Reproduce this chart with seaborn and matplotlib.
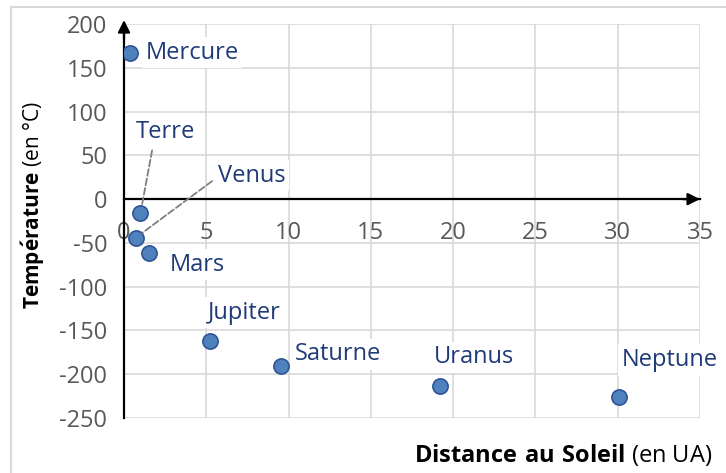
import pandas as pd
import matplotlib.pyplot as plt
import seaborn as sns
from matplotlib.patches import Rectangle

# %% data
planets = ['Mercure', 'Venus', 'Terre', 'Mars', 'Jupiter', 'Saturne', 'Uranus', 'Neptune']
distance = [0.39, 0.72, 1.0, 1.52, 5.2, 9.54, 19.2, 30.1]
temperature = [167, -44, -16, -61, -162, -191, -214, -226]

df = pd.DataFrame({'planete': planets, 'distance': distance, 'temperature': temperature})

# label offsets from each point, in pixels (placement only)
offsets = {'Mercure': (15, 0), 'Venus': (82, 62), 'Terre': (-5, 81), 'Mars': (21, -12),
           'Jupiter': (-2, 28), 'Saturne': (14, 12), 'Uranus': (-6, 29), 'Neptune': (2, 37)}

# %% plot
sns.set_style('white')
plt.rcParams['font.family'] = ['Open Sans', 'DejaVu Sans']
plt.rcParams['mathtext.fontset'] = 'custom'
plt.rcParams['mathtext.bf'] = 'Open Sans:bold'
plt.rcParams['mathtext.rm'] = 'Open Sans'
plt.rcParams['axes.unicode_minus'] = False

fig = plt.figure(figsize=(7.26, 4.73), dpi=100)
ax = fig.add_axes([124 / 726, 1 - 418 / 473, 576 / 726, 394 / 473])

grid_col = '#D9D9D9'
lab_col = '#1F3A78'
tick_col = '#595959'

sns.scatterplot(data=df, x='distance', y='temperature', ax=ax, s=120,
                color='#4F81BD', edgecolor='#2F5597', linewidth=1.2, zorder=5)

ax.set_xlim(0, 35)
ax.set_ylim(-250, 200)
ax.set_xticks(range(0, 36, 5))
ax.set_yticks(range(-250, 201, 50))
ax.grid(True, color=grid_col, lw=1.2)
ax.set_axisbelow(True)

ax.spines['left'].set_position(('data', 0))
ax.spines['bottom'].set_position(('data', 0))
for s in ['top', 'right']:
    ax.spines[s].set_visible(False)
for s in ['left', 'bottom']:
    ax.spines[s].set_linewidth(1.6)
    ax.spines[s].set_color('black')
    ax.spines[s].set_zorder(3)

ax.tick_params(axis='both', direction='out', length=7, width=1.4, color='black',
               labelsize=17, labelcolor=tick_col)
ax.tick_params(axis='x', pad=9)
ax.tick_params(axis='y', pad=5)
ax.set_xlabel('')
ax.set_ylabel('')

# axis arrows
ax.annotate('', xy=(1.0, 0), xycoords=ax.get_yaxis_transform(),
            xytext=(0.97, 0), textcoords=ax.get_yaxis_transform(),
            arrowprops=dict(arrowstyle='-|>', color='black', lw=1.6, mutation_scale=18,
                            shrinkA=0, shrinkB=0), annotation_clip=False)
ax.annotate('', xy=(0, 1.01), xycoords=ax.get_xaxis_transform(),
            xytext=(0, 0.96), textcoords=ax.get_xaxis_transform(),
            arrowprops=dict(arrowstyle='-|>', color='black', lw=1.6, mutation_scale=18,
                            shrinkA=0, shrinkB=0), annotation_clip=False)

# point labels
for name, x, y in zip(planets, distance, temperature):
    dx, dy = offsets[name]
    props = None
    if name == 'Terre':
        props = dict(arrowstyle='-', color='#7F7F7F', lw=1.3, ls='--',
                     relpos=(0.3, 0.0), shrinkA=2, shrinkB=6)
    elif name == 'Venus':
        props = dict(arrowstyle='-', color='#7F7F7F', lw=1.3, ls='--',
                     relpos=(0.0, 0.45), shrinkA=2, shrinkB=6)
    ax.annotate(name, xy=(x, y), xytext=(dx, dy), textcoords='offset pixels',
                ha='left', va='center', fontsize=17, color=lab_col, zorder=6,
                bbox=dict(boxstyle='square,pad=0.15', fc='white', ec='none'),
                arrowprops=props)

# axis titles
fig.text(712 / 726, 1 - 455 / 473, r'$\bf{Distance\ au\ Soleil}$ (en UA)',
         ha='right', va='center', fontsize=17, color='black')
fig.text(33 / 726, 1 - 205 / 473, r'$\bf{Temp\acute{e}rature}$ (en °C)',
         ha='center', va='center', rotation=90, fontsize=15, color='black')

# chart frame
fig.add_artist(Rectangle((11 / 726, -0.1), 1.0, 1.1 - 7 / 473, transform=fig.transFigure,
                         fill=False, ec=grid_col, lw=1.5))

fig.savefig('out.png', dpi=100)
